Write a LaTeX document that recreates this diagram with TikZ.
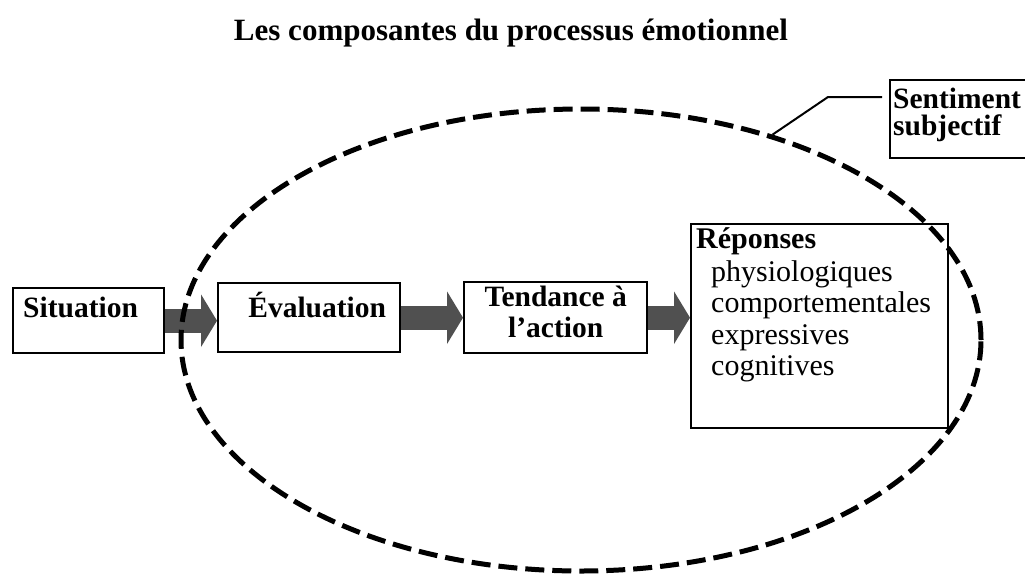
\documentclass[tikz,border=0pt]{standalone}
\usepackage{fontspec}
\setmainfont{Liberation Serif}
\usetikzlibrary{shapes.geometric,arrows.meta,calc}
\definecolor{arrowgray}{HTML}{505050}
\begin{document}
\begin{tikzpicture}[x=1pt,y=-1pt,
  boxline/.style={draw=black, line width=2.4pt},
  box/.style={boxline, inner sep=0pt, anchor=north west},
  lbl/.style={font=\fontsize{29.5}{31}\selectfont\bfseries},
  resptext/.style={font=\fontsize{30}{31.5}\selectfont},
  blockarrow/.style={draw=arrowgray, line width=24pt, -{Triangle[length=16pt 0 0, width=52pt 0 0]}},
  dashell/.style={ellipse, draw=black, line width=5pt, dash pattern=on 19pt off 8pt, inner sep=0pt},
  leader/.style={draw=black, line width=2pt},
]
\useasboundingbox (0,0) rectangle (1025,574);

% title
\node[font=\fontsize{31}{33}\selectfont\bfseries, anchor=base] (title) at (511,40) {Les composantes du processus émotionnel};

% boxes
\node[box, lbl, minimum width=151pt, text width=131pt, align=left, inner xsep=10pt, inner ysep=3pt, text height=26pt, text depth=33pt] (sit) at (12,287) {Situation};
\node[box, lbl, text width=182pt, align=center, inner xsep=0pt, inner ysep=3pt, text height=31pt, text depth=32pt] (eval) at (217,282) {\hspace*{16pt}Évaluation};
\node[box, minimum width=183pt, minimum height=71pt] (tend) at (463,281) {};
\node[lbl, align=center, inner sep=0pt] (tendtxt) at ($(tend.center)+(0,-6)$) {Tendance à\\l’action};
\node[box, minimum width=257pt, minimum height=204pt] (resp) at (690,223) {};
\node[resptext, align=left, anchor=north west, inner sep=0pt] (resptxt) at ($(resp.north west)+(6,4)$)
  {{\bfseries Réponses}\\[1.5pt]
   \hspace*{15pt}physiologiques\\
   \hspace*{15pt}comportementales\\
   \hspace*{15pt}expressives\\
   \hspace*{15pt}cognitives};

% sentiment subjectif (box open on the right)
\node[font=\fontsize{29.5}{27}\selectfont\bfseries, align=left, anchor=north west, inner sep=0pt] (sent) at (893,88) {Sentiment\\subjectif};
\draw[boxline] (1026,80) -- (890,80) -- (890,158) -- (1026,158);

% block arrows
\draw[blockarrow] (sit.east) -- (sit.east -| eval.west);
\draw[blockarrow] (eval.east) -- (eval.east -| tend.west);
\draw[blockarrow] (tend.east) -- (tend.east -| resp.west);

% ellipse
\node[dashell, minimum width=800pt, minimum height=462pt] (ell) at (581,340) {};

% leader line
\coordinate (leadend) at (882,97);
\draw[leader] (ell.47) -- (828,97) -- (leadend);
\end{tikzpicture}
\end{document}
